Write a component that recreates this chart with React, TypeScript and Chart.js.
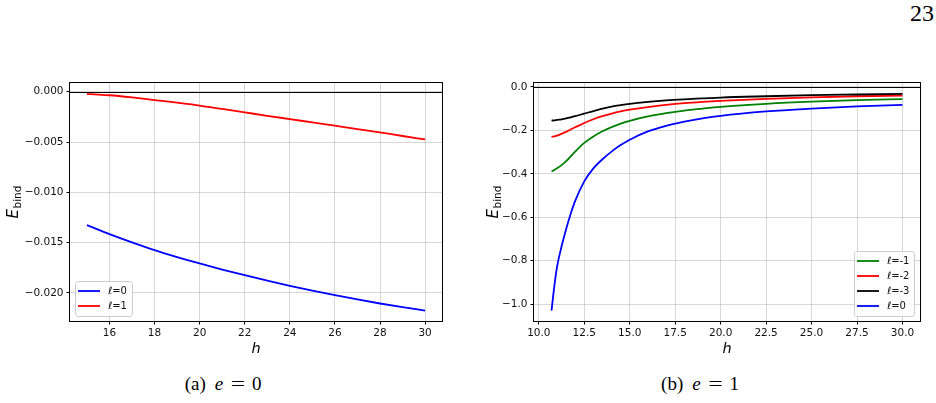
import React, { useEffect, useRef } from "react";
import { Chart, registerables } from "chart.js";

Chart.register(...registerables);

// ---------------- Panel (a): e = 0 ----------------
const H_A = [15, 15.5, 16, 17, 18, 19, 20, 21, 22, 23, 24, 25, 26, 27, 28, 29, 30];
const EBIND_A_L0 = [-0.01327, -0.01372, -0.01416, -0.01498, -0.01575, -0.01644, -0.01708, -0.01768, -0.01824, -0.01878, -0.0193, -0.01978, -0.02023, -0.02066, -0.02106, -0.02142, -0.02176];
const EBIND_A_L1 = [-0.00023, -0.00028, -0.00035, -0.00057, -0.00083, -0.00109, -0.00137, -0.00171, -0.00205, -0.00239, -0.00272, -0.00305, -0.00338, -0.00371, -0.00405, -0.0044, -0.00474];
const X_TICKS_A = [16, 18, 20, 22, 24, 26, 28, 30];
const X_TICK_LABELS_A = ["16", "18", "20", "22", "24", "26", "28", "30"];
const Y_TICKS_A = [0, -0.005, -0.01, -0.015, -0.02];
const Y_TICK_LABELS_A = ["0.000", "\u22120.005", "\u22120.010", "\u22120.015", "\u22120.020"];
const LEGEND_A = ["\u2113=0", "\u2113=1"];

// ---------------- Panel (b): e = 1 ----------------
const H_B = [10.7, 10.85, 11, 11.25, 11.5, 11.75, 12, 12.5, 13, 13.5, 14, 14.5, 15, 16, 17, 18, 19, 20, 22.5, 25, 27.5, 30];
const EBIND_B_LM1 = [-0.389, -0.383, -0.375, -0.36, -0.342, -0.32, -0.298, -0.258, -0.228, -0.204, -0.185, -0.169, -0.156, -0.136, -0.121, -0.109, -0.1, -0.092, -0.078, -0.068, -0.061, -0.056];
const EBIND_B_LM2 = [-0.23, -0.228, -0.224, -0.216, -0.207, -0.196, -0.186, -0.166, -0.149, -0.135, -0.123, -0.113, -0.105, -0.093, -0.083, -0.075, -0.069, -0.064, -0.055, -0.048, -0.043, -0.04];
const EBIND_B_LM3 = [-0.155, -0.154, -0.152, -0.149, -0.145, -0.14, -0.135, -0.123, -0.111, -0.1, -0.091, -0.084, -0.078, -0.069, -0.062, -0.057, -0.053, -0.049, -0.043, -0.038, -0.035, -0.032];
const EBIND_B_L0 = [-1.03, -0.92, -0.83, -0.735, -0.655, -0.585, -0.525, -0.435, -0.375, -0.333, -0.298, -0.268, -0.243, -0.205, -0.179, -0.16, -0.145, -0.133, -0.113, -0.1, -0.09, -0.083];
const X_TICKS_B = [10, 12.5, 15, 17.5, 20, 22.5, 25, 27.5, 30];
const X_TICK_LABELS_B = ["10.0", "12.5", "15.0", "17.5", "20.0", "22.5", "25.0", "27.5", "30.0"];
const Y_TICKS_B = [0, -0.2, -0.4, -0.6, -0.8, -1.0];
const Y_TICK_LABELS_B = ["0.0", "\u22120.2", "\u22120.4", "\u22120.6", "\u22120.8", "\u22121.0"];
const LEGEND_B = ["\u2113=-1", "\u2113=-2", "\u2113=-3", "\u2113=0"];

const FONT = '"DejaVu Sans", sans-serif';
const TICK_SIZE = 10.5;

type Series = { label: string; color: string; data: number[] };
type PanelProps = {
  left: number;
  top: number;
  width: number;
  height: number;
  padRight: number;
  padTop: number;
  yAxisWidth: number;
  xAxisHeight: number;
  xs: number[];
  series: Series[];
  xMin: number;
  xMax: number;
  yMin: number;
  yMax: number;
  xTicks: number[];
  xTickLabels: string[];
  yTicks: number[];
  yTickLabels: string[];
  yLabelX: number;
  xLabelBaseline: number;
  legendCorner: "left" | "right";
};

function Panel(p: PanelProps) {
  const ref = useRef<HTMLCanvasElement | null>(null);
  useEffect(() => {
    const canvas = ref.current;
    if (!canvas) return;
    const decor = {
      id: "decor",
      beforeDatasetsDraw(chart: any) {
        const { ctx, chartArea: a, scales } = chart;
        const y0 = Math.round(scales.y.getPixelForValue(0)) + 0.5;
        ctx.save();
        ctx.strokeStyle = "#000";
        ctx.lineWidth = 1;
        ctx.beginPath();
        ctx.moveTo(a.left, y0);
        ctx.lineTo(a.right, y0);
        ctx.stroke();
        ctx.restore();
      },
      afterDraw(chart: any) {
        const { ctx, chartArea: a } = chart;
        ctx.save();
        // spines
        ctx.strokeStyle = "#000";
        ctx.lineWidth = 1;
        ctx.strokeRect(Math.round(a.left) - 0.5, Math.round(a.top) - 0.5, Math.round(a.right - a.left) + 1, Math.round(a.bottom - a.top) + 1);

        // legend
        const n = p.series.length;
        const fItal = `italic 10px ${FONT}`;
        const fNorm = `10px ${FONT}`;
        let maxW = 0;
        p.series.forEach((s) => {
          ctx.font = fItal;
          const w1 = ctx.measureText(s.label.slice(0, 1)).width;
          ctx.font = fNorm;
          const w2 = ctx.measureText(s.label.slice(1)).width;
          maxW = Math.max(maxW, w1 + w2);
        });
        const w = Math.round(33 + maxW + 5);
        const h = n * 15 + 5;
        const bx = p.legendCorner === "left" ? Math.round(a.left) + 5 : Math.round(a.right) - 6 - w;
        const by = Math.round(a.bottom) - 5 - h;
        ctx.beginPath();
        (ctx as any).roundRect(bx + 0.5, by + 0.5, w, h, 3);
        ctx.fillStyle = "rgba(255,255,255,0.8)";
        ctx.fill();
        ctx.strokeStyle = "#cccccc";
        ctx.stroke();
        p.series.forEach((s, i) => {
          const y = by + h - 10 - (n - 1 - i) * 15;
          ctx.strokeStyle = s.color;
          ctx.lineWidth = 1.8;
          ctx.beginPath();
          ctx.moveTo(bx + 3, y);
          ctx.lineTo(bx + 25, y);
          ctx.stroke();
          ctx.fillStyle = "#111";
          ctx.textBaseline = "middle";
          ctx.textAlign = "left";
          ctx.font = fItal;
          const w1 = ctx.measureText(s.label.slice(0, 1)).width;
          ctx.fillText(s.label.slice(0, 1), bx + 33, y);
          ctx.font = fNorm;
          ctx.fillText(s.label.slice(1), bx + 33 + w1, y);
        });

        // y label  E_bind
        const cy = (a.top + a.bottom) / 2;
        ctx.translate(p.yLabelX, cy);
        ctx.rotate(-Math.PI / 2);
        const fE = `italic 15px ${FONT}`;
        const fS = `10.5px ${FONT}`;
        ctx.font = fE;
        const wE = ctx.measureText("E").width;
        ctx.font = fS;
        const wS = ctx.measureText("bind").width;
        const total = wE + 0.5 + wS;
        ctx.fillStyle = "#000";
        ctx.textBaseline = "alphabetic";
        ctx.textAlign = "left";
        ctx.font = fE;
        ctx.fillText("E", -total / 2, 0);
        ctx.font = fS;
        ctx.fillText("bind", -total / 2 + wE + 0.5, 3);
        ctx.setTransform(1, 0, 0, 1, 0, 0);

        // x label h
        ctx.font = `italic 14.5px ${FONT}`;
        ctx.textAlign = "center";
        ctx.textBaseline = "alphabetic";
        ctx.fillText("h", (a.left + a.right) / 2, p.xLabelBaseline);
        ctx.restore();
      },
    };

    const chart = new Chart(canvas, {
      type: "line",
      data: {
        datasets: p.series.map((s, k) => ({
          label: s.label,
          data: p.xs.map((x, i) => ({ x, y: s.data[i] })),
          borderColor: s.color,
          backgroundColor: s.color,
          borderWidth: 1.8,
          pointRadius: 0,
          fill: false,
          cubicInterpolationMode: "monotone",
          order: p.series.length - k,
        })),
      },
      options: {
        animation: false,
        responsive: false,
        devicePixelRatio: 1,
        events: [],
        layout: { padding: { left: 0, top: p.padTop, right: p.padRight, bottom: 0 } },
        plugins: { legend: { display: false }, tooltip: { enabled: false } },
        scales: {
          x: {
            type: "linear",
            min: p.xMin,
            max: p.xMax,
            afterBuildTicks: (s: any) => {
              s.ticks = p.xTicks.map((v) => ({ value: v }));
            },
            afterFit: (s: any) => {
              s.height = p.xAxisHeight;
            },
            ticks: {
              autoSkip: false,
              maxRotation: 0,
              padding: 2,
              color: "#111",
              font: { family: FONT, size: TICK_SIZE },
              callback: (_v: any, i: number) => p.xTickLabels[i],
            },
            grid: {
              color: "rgba(176,176,176,0.5)",
              lineWidth: 1,
              drawTicks: true,
              tickLength: 3.5,
              tickColor: "#000",
              tickWidth: 1,
            },
            border: { display: false },
          },
          y: {
            type: "linear",
            min: p.yMin,
            max: p.yMax,
            afterBuildTicks: (s: any) => {
              s.ticks = p.yTicks.map((v) => ({ value: v }));
            },
            afterFit: (s: any) => {
              s.width = p.yAxisWidth;
            },
            ticks: {
              autoSkip: false,
              padding: 3,
              color: "#111",
              font: { family: FONT, size: TICK_SIZE },
              callback: (_v: any, i: number) => p.yTickLabels[i],
            },
            grid: {
              color: "rgba(176,176,176,0.5)",
              lineWidth: 1,
              drawTicks: true,
              tickLength: 3.5,
              tickColor: "#000",
              tickWidth: 1,
            },
            border: { display: false },
          },
        },
      } as any,
      plugins: [decor as any],
    });
    return () => chart.destroy();
  }, []);
  return (
    <canvas
      ref={ref}
      width={p.width}
      height={p.height}
      style={{ position: "absolute", left: p.left, top: p.top, width: p.width, height: p.height, display: "block" }}
    />
  );
}

const serif = '"Liberation Serif", "DejaVu Serif", serif';

function Caption({ cx, tag, val }: { cx: number; tag: string; val: string }) {
  return (
    <div
      style={{
        position: "absolute",
        left: cx,
        top: 374,
        transform: "translateX(-50%)",
        fontFamily: serif,
        fontSize: 19,
        lineHeight: "19px",
        whiteSpace: "nowrap",
        color: "#000",
        display: "flex",
        alignItems: "baseline",
      }}
    >
      <span>{`(${tag})`}</span>
      <span style={{ fontStyle: "italic", marginLeft: 9 }}>e</span>
      <span style={{ marginLeft: 9, transform: "scaleX(1.35)", display: "inline-block" }}>=</span>
      <span style={{ marginLeft: 9 }}>{val}</span>
    </div>
  );
}

export default function App() {
  const seriesA: Series[] = [
    { label: LEGEND_A[0], color: "#0000ff", data: EBIND_A_L0 },
    { label: LEGEND_A[1], color: "#ff0000", data: EBIND_A_L1 },
  ];
  const seriesB: Series[] = [
    { label: LEGEND_B[0], color: "#008000", data: EBIND_B_LM1 },
    { label: LEGEND_B[1], color: "#ff0000", data: EBIND_B_LM2 },
    { label: LEGEND_B[2], color: "#000000", data: EBIND_B_LM3 },
    { label: LEGEND_B[3], color: "#0000ff", data: EBIND_B_L0 },
  ];
  return (
    <div style={{ position: "absolute", left: 0, top: 0, width: 936, height: 403, background: "#fff", overflow: "hidden" }}>
      <div
        style={{
          position: "absolute",
          right: 2,
          top: 1,
          fontFamily: serif,
          fontSize: 24,
          lineHeight: "24px",
          color: "#000",
        }}
      >
        23
      </div>
      <Panel
        left={0}
        top={60}
        width={470}
        height={300}
        padRight={28}
        padTop={23}
        yAxisWidth={70}
        xAxisHeight={39}
        xs={H_A}
        series={seriesA}
        xMin={14.25}
        xMax={30.75}
        yMin={-0.0228}
        yMax={0.00087}
        xTicks={X_TICKS_A}
        xTickLabels={X_TICK_LABELS_A}
        yTicks={Y_TICKS_A}
        yTickLabels={Y_TICK_LABELS_A}
        yLabelX={18}
        xLabelBaseline={293}
        legendCorner="left"
      />
      <Panel
        left={470}
        top={60}
        width={466}
        height={300}
        padRight={16}
        padTop={23}
        yAxisWidth={64}
        xAxisHeight={39}
        xs={H_B}
        series={seriesB}
        xMin={9.735}
        xMax={30.965}
        yMin={-1.078}
        yMax={0.018}
        xTicks={X_TICKS_B}
        xTickLabels={X_TICK_LABELS_B}
        yTicks={Y_TICKS_B}
        yTickLabels={Y_TICK_LABELS_B}
        yLabelX={28}
        xLabelBaseline={293}
        legendCorner="right"
      />
      <Caption cx={223} tag="a" val="0" />
      <Caption cx={700} tag="b" val="1" />
    </div>
  );
}
